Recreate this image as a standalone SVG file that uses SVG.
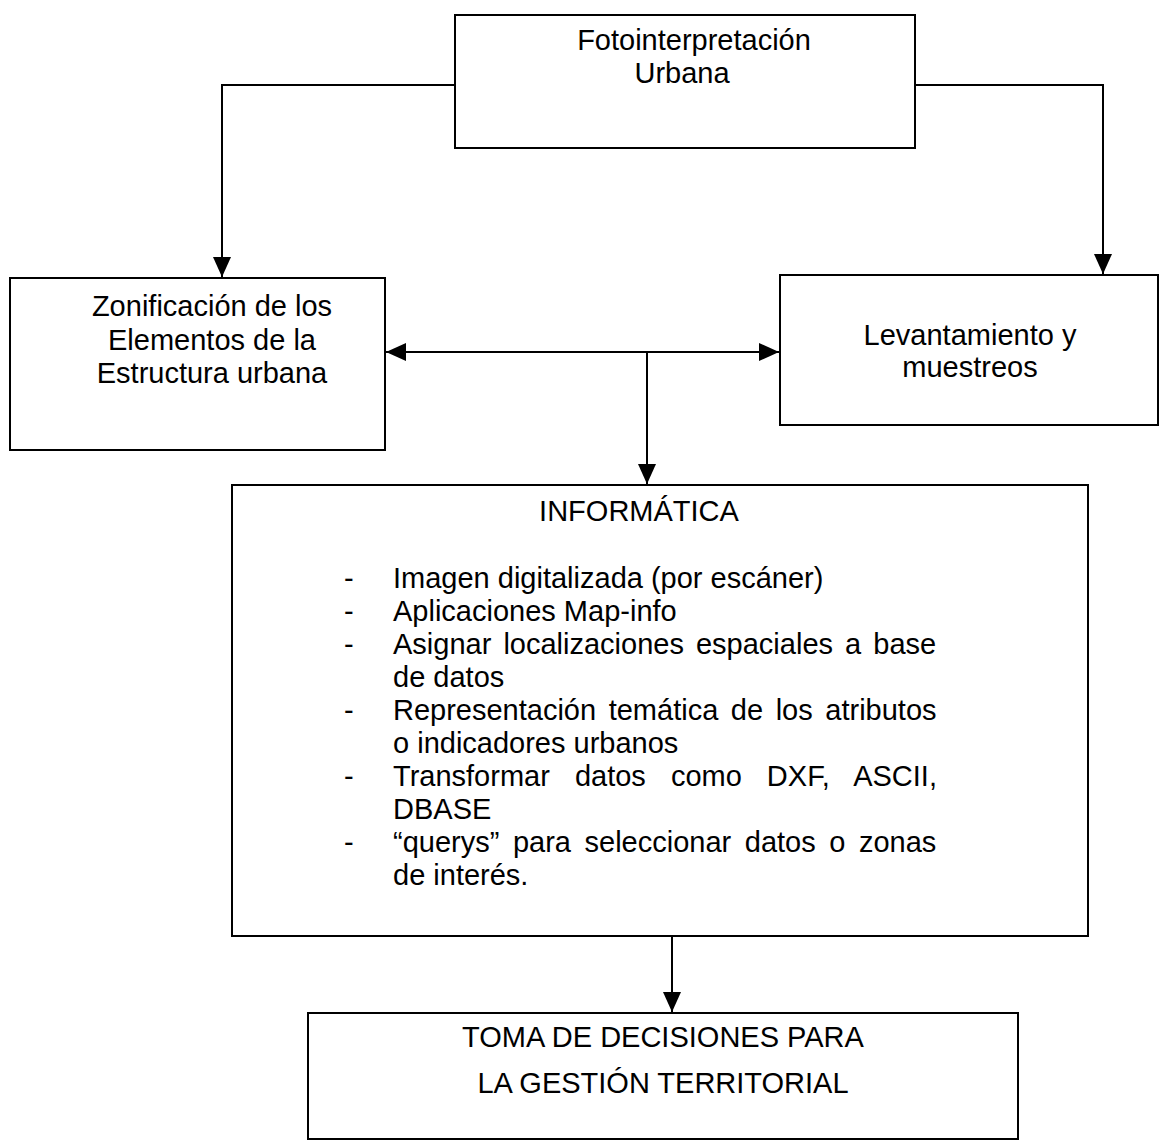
<svg xmlns="http://www.w3.org/2000/svg" width="1160" height="1141" viewBox="0 0 1160 1141">
<style>
.box{fill:#fff;stroke:#000;stroke-width:2}
.t{font-family:"Liberation Sans",Arial,sans-serif;font-size:29px;fill:#000}
.c{text-anchor:middle}
.ln{fill:none;stroke:#000;stroke-width:2}
</style>
<defs>
<marker id="a" viewBox="0 0 20 18" refX="20" refY="9" markerWidth="20" markerHeight="18" markerUnits="userSpaceOnUse" orient="auto-start-reverse">
<path d="M0,0 L20,9 L0,18 Z" fill="#000"/>
</marker>
</defs>
<g id="connectors">
<path class="ln" d="M455,85 H222 V277" marker-end="url(#a)"/>
<path class="ln" d="M915,85 H1103 V274" marker-end="url(#a)"/>
<path class="ln" d="M386,352 H779" marker-start="url(#a)" marker-end="url(#a)"/>
<path class="ln" d="M647,352 V484" marker-end="url(#a)"/>
<path class="ln" d="M672,937 V1012" marker-end="url(#a)"/>
</g>
<g id="foto">
<rect class="box" x="455" y="15" width="460" height="133"/>
<text class="t c" x="694" y="50">Fotointerpretación</text>
<text class="t c" x="682" y="83">Urbana</text>
</g>
<g id="zonificacion">
<rect class="box" x="10" y="278" width="375" height="172"/>
<text class="t c" x="212" y="316">Zonificación de los</text>
<text class="t c" x="212" y="350">Elementos de la</text>
<text class="t c" x="212" y="383">Estructura urbana</text>
</g>
<g id="levantamiento">
<rect class="box" x="780" y="275" width="378" height="150"/>
<text class="t c" x="970" y="345">Levantamiento y</text>
<text class="t c" x="970" y="377">muestreos</text>
</g>
<g id="informatica">
<rect class="box" x="232" y="485" width="856" height="451"/>
<text class="t c" x="639" y="521">INFORMÁTICA</text>
<text class="t" x="344" y="588">-</text>
<text class="t" x="344" y="621">-</text>
<text class="t" x="344" y="654">-</text>
<text class="t" x="344" y="720">-</text>
<text class="t" x="344" y="786">-</text>
<text class="t" x="344" y="852">-</text>
<text class="t" x="393" y="588">Imagen digitalizada (por escáner)</text>
<text class="t" x="393" y="621">Aplicaciones Map-info</text>
<text class="t" x="393" y="654" word-spacing="4">Asignar localizaciones espaciales a base</text>
<text class="t" x="393" y="687">de datos</text>
<text class="t" x="393" y="720" word-spacing="4.5">Representación temática de los atributos</text>
<text class="t" x="393" y="753">o indicadores urbanos</text>
<text class="t" x="393" y="786" word-spacing="17">Transformar datos como DXF, ASCII,</text>
<text class="t" x="393" y="819">DBASE</text>
<text class="t" x="393" y="852" word-spacing="5.5">“querys” para seleccionar datos o zonas</text>
<text class="t" x="393" y="885">de interés.</text>
</g>
<g id="toma">
<rect class="box" x="308" y="1013" width="710" height="126"/>
<text class="t c" x="663" y="1047">TOMA DE DECISIONES PARA</text>
<text class="t c" x="663" y="1093">LA GESTIÓN TERRITORIAL</text>
</g>
</svg>
